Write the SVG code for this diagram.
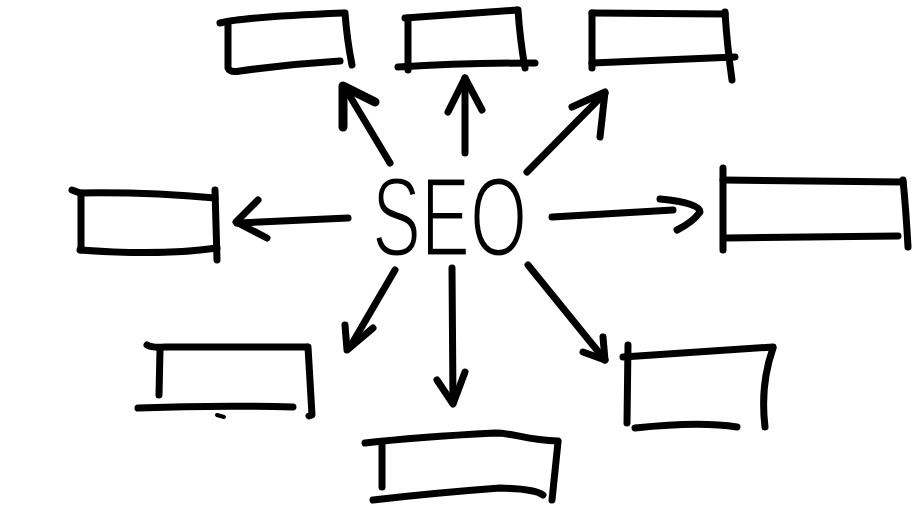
<svg xmlns="http://www.w3.org/2000/svg" width="914" height="514" viewBox="0 0 914 514">
<style>
.ink{fill:none;stroke:#000;stroke-width:7;stroke-linecap:round;stroke-linejoin:round}
.thin{fill:none;stroke:#000;stroke-width:4;stroke-linecap:round}
.lbl{font-family:"Liberation Sans","Open Sans",sans-serif;font-size:114px;fill:#000;stroke:#fff;stroke-width:3}
</style>
<rect width="914" height="514" fill="#fff"/>
<g id="seo">
<text class="lbl" x="372" y="256" textLength="155" lengthAdjust="spacingAndGlyphs">SEO</text>
</g>
<g id="box-top-left" class="ink">
<path d="M220,23 Q243,17 343,13"/>
<path d="M228,25 L228,68 Q230,73 240,71 Q290,64 340,61"/>
<path d="M345,13 Q347,40 352,65"/>
</g>
<g id="box-top-center" class="ink">
<path d="M405,18 Q460,14 517,10"/>
<path d="M408,18 L408,70"/>
<path d="M518,10 Q520,40 525,68"/>
<path d="M398,67 Q460,63 535,63"/>
</g>
<g id="box-top-right" class="ink">
<path d="M592,13 L725,14"/>
<path d="M592,13 L592,68"/>
<path d="M592,63 L735,57"/>
<path d="M725,12 Q727,45 732,80"/>
</g>
<g id="box-left" class="ink">
<path d="M72,190 L80,193 Q150,192 215,198"/>
<path d="M81,193 L81,250"/>
<path d="M80,250 Q160,256 217,248"/>
<path d="M215,190 L217,260"/>
</g>
<g id="box-right" class="ink">
<path d="M723,180 L903,182"/>
<path d="M723,168 L723,250"/>
<path d="M727,238 L898,236"/>
<path d="M903,180 Q906,210 908,247"/>
</g>
<g id="box-bottom-left" class="ink">
<path d="M147,345 Q152,348 165,347 L307,347"/>
<path d="M308,347 Q310,380 312,415 L309,416"/>
<path d="M160,350 L159,395"/>
<path d="M138,408 Q215,405 293,407"/>
<path class="thin" d="M217,415 L224,417"/>
</g>
<g id="box-bottom-center" class="ink">
<path d="M365,443 Q417,437 495,433 C515,433 525,440 558,441"/>
<path d="M382,445 L382,487"/>
<path d="M558,442 L552,500"/>
<path d="M373,500 Q433,493 500,488 Q535,489 543,495"/>
</g>
<g id="box-bottom-right" class="ink">
<path d="M623,357 L773,347"/>
<path d="M628,345 L627,423"/>
<path d="M635,428 Q700,421 737,427"/>
<path d="M773,348 Q760,385 765,427"/>
</g>
<g id="connectors" class="ink">
<path d="M390,163 L345,88"/>
<path d="M375,102 L343,86 L343,127" style="stroke-width:9"/>
<path d="M465,153 L465,78"/>
<path d="M448,112 L465,78 L482,110"/>
<path d="M527,172 L605,93"/>
<path d="M572,107 L605,92 L600,137"/>
<path d="M348,218 L237,223"/>
<path d="M258,200 L236,222 L267,238"/>
<path d="M552,217 L673,210"/>
<path d="M660,199 Q700,203 700,212 Q693,222 677,230"/>
<path d="M395,270 L350,347"/>
<path d="M345,325 L347,350 L373,328"/>
<path d="M452,268 L453,403"/>
<path d="M437,380 L453,404 L465,372"/>
<path d="M528,265 L605,360"/>
<path d="M583,352 L605,360 L603,337"/>
</g>
</svg>
